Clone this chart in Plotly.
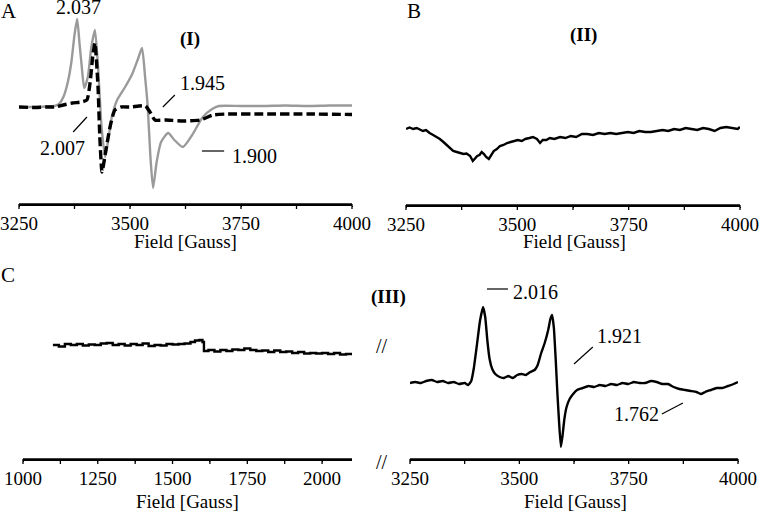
import plotly.graph_objects as go

# ---------------- data ----------------
# Panel A, spectrum (I): grey solid trace
A_grey_field = [3250, 3280, 3310, 3330, 3340, 3350, 3360, 3368, 3375, 3381, 3386, 3391, 3397,
                3405, 3413, 3421, 3428, 3436, 3444, 3452, 3459, 3471, 3489, 3505, 3518, 3527,
                3534, 3540, 3546, 3552, 3560, 3570, 3586, 3600, 3619, 3640, 3664, 3685, 3700,
                3750, 3800, 3850, 3900, 3950, 4000]
A_grey_int = [0, 0, 0.5, 1, 3, 10, 25, 45, 72, 88, 65, 42, 19,
              30, 60, 77, 40, -20, -50, -30, -10, 7, 20, 33, 48, 59,
              30, 0, -50, -81, -55, -35, -26, -33, -40, -28, -10, -2, 1,
              1, 1, 1.5, 1, 1.5, 1.5]

# Panel A, spectrum (I): black dashed trace
A_dash_field = [3250, 3280, 3310, 3330, 3350, 3370, 3390, 3403, 3410, 3416, 3421, 3428, 3432,
                3437, 3445, 3455, 3466, 3480, 3500, 3520, 3535, 3545, 3556, 3580, 3620, 3658,
                3687, 3720, 3800, 3900, 4000]
A_dash_int = [0, -0.5, 0, 0, 2, 4, 5, 7, 24, 50, 64, 20, -30,
              -65, -45, -20, -3, 0, 0, 1, 1, -5, -13, -13, -14, -13,
              -8, -7, -7, -7, -7.5]

# Panel B, spectrum (II)
B_field = [3250, 3258, 3266, 3274, 3281, 3288, 3295, 3303, 3311, 3319, 3326, 3334, 3341, 3349,
           3356, 3364, 3371, 3379, 3386, 3394, 3400, 3405, 3410, 3415, 3420, 3425, 3430, 3436,
           3441, 3447, 3454, 3461, 3469, 3477, 3485, 3493, 3501, 3510, 3518, 3527, 3535, 3544,
           3551, 3557, 3565, 3573, 3583, 3596, 3608, 3620, 3632, 3645, 3657, 3670, 3683, 3696,
           3709, 3722, 3735, 3748, 3761, 3774, 3787, 3800, 3813, 3826, 3839, 3852, 3865, 3878,
           3891, 3904, 3917, 3930, 3943, 3956, 3969, 3982, 3995, 4000]
B_int = [0, 1.5, 0, 1, -0.5, -2, -1, -4, -6, -8, -10, -13, -16, -19,
         -22, -23, -24, -25, -24.5, -27, -32, -29, -27, -26, -23, -25, -28, -30,
         -26, -22, -20, -17, -16, -14, -13, -12, -11, -12, -10, -9, -8, -10,
         -14, -11, -11, -9, -10, -8, -9, -7, -8, -5, -5, -6, -4, -5,
         -4, -5, -4, -3, -4, -2, -3, -3, -2, -1, -2, 0, -1, 1,
         0, -1, 1, 0, -2, 1, 2, 1, 0, 2]

# Panel C, low-field region of spectrum (III)
C_field = [1100, 1120, 1140, 1160, 1180, 1200, 1220, 1240, 1260, 1280, 1300, 1320, 1340, 1360,
           1380, 1400, 1420, 1440, 1460, 1480, 1500, 1520, 1540, 1560, 1575, 1590, 1600, 1605,
           1620, 1640, 1660, 1680, 1700, 1720, 1740, 1760, 1780, 1800, 1820, 1840, 1860, 1880,
           1900, 1920, 1940, 1960, 1980, 2000, 2020, 2040, 2060, 2080, 2100]
C_int = [0, -1.5, 1, 0, 1, -0.5, 0.5, 0, 1.5, 2, 0, 1, -0.5, 1,
         0, 1.5, -1, 0, -0.5, 1, 0.5, 1, 1.5, 3, 4.5, 5, 3, -6,
         -5, -6.5, -5, -6, -4.5, -5, -3.5, -5, -6, -5.5, -7, -5.5, -7, -6.5,
         -8, -7, -8.5, -8, -8.5, -8, -9, -8, -9.5, -9, -10]

# Panel D, spectrum (III)
D_field = [3250, 3262, 3275, 3287, 3300, 3312, 3325, 3337, 3350, 3362, 3375, 3383, 3390, 3396,
           3403, 3410, 3417, 3422, 3427, 3432, 3438, 3445, 3455, 3465, 3475, 3485, 3495, 3505,
           3515, 3525, 3535, 3542, 3550, 3558, 3566, 3571, 3575, 3579, 3583, 3587, 3591, 3595,
           3599, 3603, 3608, 3615, 3623, 3632, 3645, 3658, 3671, 3684, 3697, 3710, 3723, 3736,
           3749, 3762, 3775, 3788, 3801, 3814, 3827, 3840, 3853, 3866, 3879, 3892, 3905, 3915,
           3925, 3938, 3951, 3964, 3977, 3990, 4000]
D_int = [0, 1, 0, 2, 3, 1, 2, 0, 1, -1, 0, -2, 2, 15,
         38, 62, 76, 66, 42, 24, 14, 9, 6, 5, 7, 5, 8, 9,
         8, 11, 13, 18, 30, 40, 53, 64, 68, 55, 25, -10, -40, -64,
         -52, -36, -24, -16, -11, -7, -5, -3, -4, -2, -3, -1, -2, 0,
         -1, 1, 0, 0, 2, 1, -1, -1, -4, -6, -7, -8, -9, -11,
         -9, -7, -5, -5, -3, -1, 1]

TICKS_HI = [3250, 3375, 3500, 3625, 3750, 3875, 4000]
TICKTEXT_HI = ["3250", "", "3500", "", "3750", "", "4000"]
TICKS_LO = [1000, 1125, 1250, 1375, 1500, 1625, 1750, 1875, 2000]
TICKTEXT_LO = ["1000", "", "1250", "", "1500", "", "1750", "", "2000"]
AXIS_TITLE = "Field [Gauss]"

# ---------------- layout helpers ----------------
W, H = 760, 518
FONT = "Liberation Serif, Times New Roman, serif"


def px(x):
    return x / W


def py(y):
    return 1 - y / H


fig = go.Figure()

fig.add_trace(go.Scatter(x=A_grey_field, y=A_grey_int, mode="lines",
                         line=dict(color="#9a9a9a", width=2.4, shape="spline", smoothing=0.6),
                         xaxis="x", yaxis="y"))
fig.add_trace(go.Scatter(x=A_dash_field, y=A_dash_int, mode="lines",
                         line=dict(color="black", width=3.4, dash="9px,4px", shape="spline",
                                   smoothing=0.5),
                         xaxis="x", yaxis="y"))
fig.add_trace(go.Scatter(x=B_field, y=B_int, mode="lines",
                         line=dict(color="black", width=2.4), xaxis="x2", yaxis="y2"))
fig.add_trace(go.Scatter(x=C_field, y=C_int, mode="lines", line_shape="hv",
                         line=dict(color="black", width=2.4), xaxis="x3", yaxis="y3"))
fig.add_trace(go.Scatter(x=D_field, y=D_int, mode="lines",
                         line=dict(color="black", width=2.4, shape="spline", smoothing=0.4),
                         xaxis="x4", yaxis="y4"))

ann = []
shapes = []


def xax(dom, rng, tv, tt, anchor):
    return dict(domain=dom, range=rng, anchor=anchor, showline=True, linecolor="black",
                linewidth=1.5, ticks="outside", ticklen=1, tickcolor="black", tickwidth=1.3,
                tickmode="array", tickvals=tv, ticktext=tt,
                showgrid=False, zeroline=False, automargin=False, fixedrange=True,
                tickfont=dict(family=FONT, size=19, color="black"))


def yax(dom, rng, anchor):
    return dict(domain=dom, range=rng, anchor=anchor, showline=False, showticklabels=False,
                ticks="", showgrid=False, zeroline=False, automargin=False, fixedrange=True)


def text(x, y, s, xref="paper", yref="paper", size=19, bold=False):
    ann.append(dict(x=x, y=y, xref=xref, yref=yref, text=("<b>%s</b>" % s) if bold else s,
                    showarrow=False, xanchor="center", yanchor="middle",
                    font=dict(family=FONT, size=size, color="black")))


def seg(x0, y0, x1, y1, xref, yref, width=1.2):
    shapes.append(dict(type="line", x0=x0, y0=y0, x1=x1, y1=y1, xref=xref, yref=yref,
                       opacity=1, layer="above", line=dict(color="black", width=width)))


def axis_decor(xdom, xrng, ydom_bottom, tickvals):
    # axis baseline and downward tick marks, placed on the paper from the axis domain/range
    seg(xdom[0], ydom_bottom, xdom[1], ydom_bottom, "paper", "paper", 1.5)
    for tv in tickvals:
        xf = xdom[0] + (tv - xrng[0]) / (xrng[1] - xrng[0]) * (xdom[1] - xdom[0])
        seg(xf, ydom_bottom, xf, ydom_bottom - 5.0 / H, "paper", "paper", 1.3)


DOM = {
    "A": ([px(19), px(352)], [3250, 4000], [py(204), py(0)], [-97, 107]),
    "B": ([px(406), px(740)], [3250, 4000], [py(205), py(0)], [-76, 129]),
    "C": ([px(23), px(352)], [1000, 2100], [py(459), py(260)], [-114, 85]),
    "D": ([px(410), px(738)], [3250, 4000], [py(459), py(260)], [-76, 123]),
}
axis_decor(DOM["A"][0], DOM["A"][1], DOM["A"][2][0], TICKS_HI)
axis_decor(DOM["B"][0], DOM["B"][1], DOM["B"][2][0], TICKS_HI)
axis_decor(DOM["C"][0], DOM["C"][1], DOM["C"][2][0], TICKS_LO)
axis_decor(DOM["D"][0], DOM["D"][1], DOM["D"][2][0], TICKS_HI)

# Panel A annotations (data coordinates)
text(3383, 100, "2.037", "x", "y", 20)
text(3635, 68, "(I)", "x", "y", 19, True)
text(3664, 24, "1.945", "x", "y", 20)
seg(3574, 0, 3601, 12, "x", "y")
text(3349, -41, "2.007", "x", "y", 20)
seg(3372, -25, 3403, -10, "x", "y")
text(3781, -49, "1.900", "x", "y", 20)
seg(3662, -44, 3712, -44, "x", "y")

# Panel B
text(3648, 94, "(II)", "x2", "y2", 19, True)

# Panel D
text(3536, 91, "2.016", "x4", "y4", 20)
seg(3426, 94, 3474, 94, "x4", "y4")
text(3730, 47, "1.921", "x4", "y4", 20)
seg(3625, 19, 3668, 36, "x4", "y4")
text(3769, -31, "1.762", "x4", "y4", 20)
seg(3826, -31, 3874, -20, "x4", "y4")

# paper-positioned labels
text(px(388), py(297), "(III)", size=19, bold=True)
text(px(382), py(346), "//", size=20)
text(px(382), py(462), "//", size=20)
text(px(9), py(11), "A", size=21)
text(px(414), py(11), "B", size=21)
text(px(8), py(275), "C", size=21)
text(px(185), py(241), AXIS_TITLE, size=19)
text(px(574), py(242), AXIS_TITLE, size=19)
text(px(187), py(501), AXIS_TITLE, size=19)
text(px(575), py(501), AXIS_TITLE, size=19)

fig.update_layout(
    template="none",
    width=W, height=H, margin=dict(l=0, r=0, t=0, b=0, autoexpand=False),
    paper_bgcolor="white", plot_bgcolor="white", showlegend=False,
    xaxis=xax(DOM["A"][0], DOM["A"][1], TICKS_HI, TICKTEXT_HI, "y"),
    yaxis=yax(DOM["A"][2], DOM["A"][3], "x"),
    xaxis2=xax(DOM["B"][0], DOM["B"][1], TICKS_HI, TICKTEXT_HI, "y2"),
    yaxis2=yax(DOM["B"][2], DOM["B"][3], "x2"),
    xaxis3=xax(DOM["C"][0], DOM["C"][1], TICKS_LO, TICKTEXT_LO, "y3"),
    yaxis3=yax(DOM["C"][2], DOM["C"][3], "x3"),
    xaxis4=xax(DOM["D"][0], DOM["D"][1], TICKS_HI, TICKTEXT_HI, "y4"),
    yaxis4=yax(DOM["D"][2], DOM["D"][3], "x4"),
    annotations=ann, shapes=shapes,
)

fig.write_html("out.html", config={"displayModeBar": False},
               post_script="document.body.style.margin='0px';document.body.style.overflow='hidden';")
